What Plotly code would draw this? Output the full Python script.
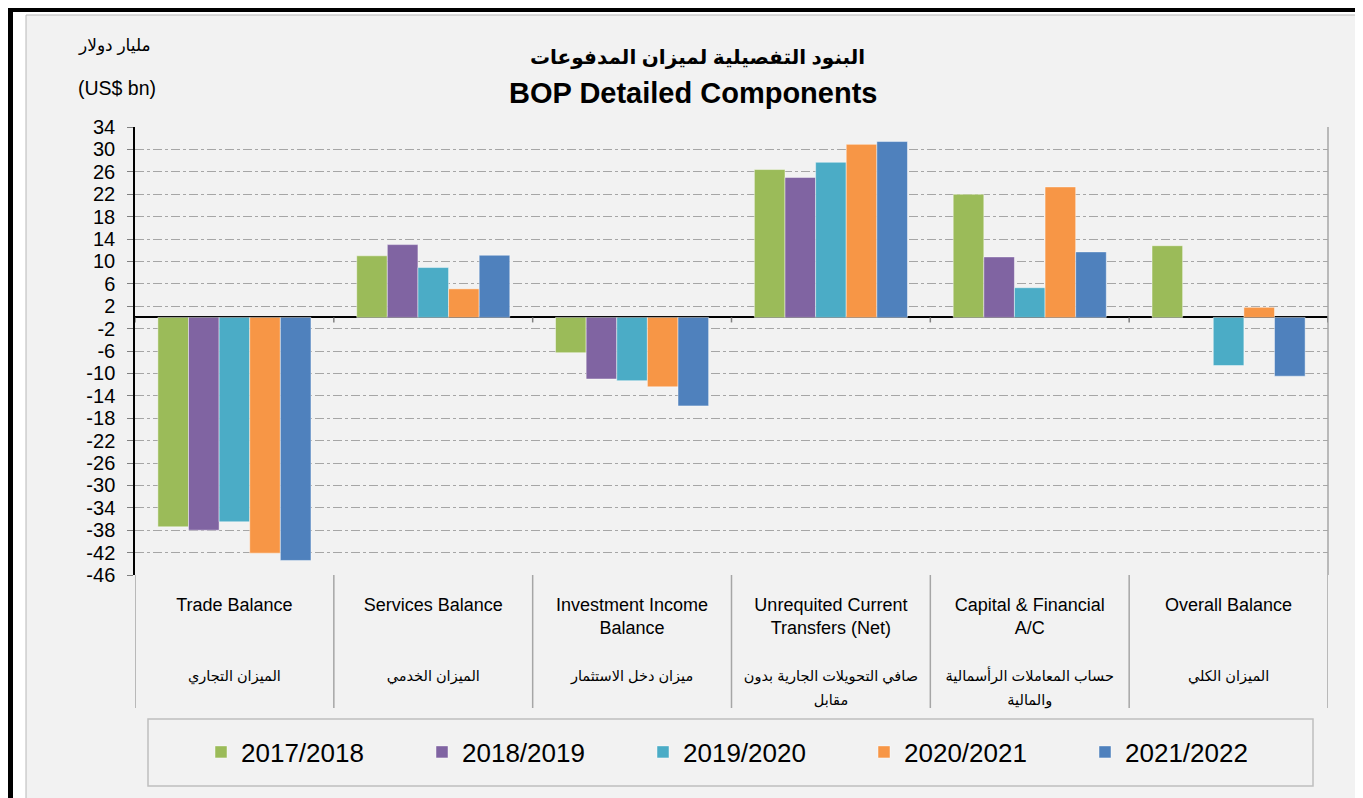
import plotly.graph_objects as go

W, H = 1363, 798
OFF = 8  # page body margin offset
L, R, T, B = 135 - OFF, 1328 - OFF, 127 - OFF, 575 - OFF  # plot area in figure px

categories = ["Trade", "Services", "Investment", "Unrequited", "Capital", "Overall"]
labels_en = ["Trade Balance", "Services Balance", "Investment Income<br>Balance",
             "Unrequited Current<br>Transfers (Net)", "Capital & Financial<br>A/C", "Overall Balance"]
labels_ar = ["الميزان التجاري", "الميزان الخدمي", "ميزان دخل الاستثمار",
             "صافي التحويلات الجارية بدون<br>مقابل", "حساب المعاملات الرأسمالية<br>والمالية", "الميزان الكلي"]
series_names = ["2017/2018", "2018/2019", "2019/2020", "2020/2021", "2021/2022"]
v_2017_2018 = [-37.4, 11.0, -6.3, 26.4, 22.0, 12.8]
v_2018_2019 = [-38.0, 13.0, -11.0, 25.0, 10.8, None]
v_2019_2020 = [-36.5, 8.9, -11.3, 27.7, 5.3, -8.6]
v_2020_2021 = [-42.1, 5.1, -12.4, 30.9, 23.3, 1.8]
v_2021_2022 = [-43.4, 11.1, -15.8, 31.4, 11.7, -10.5]
series_values = [v_2017_2018, v_2018_2019, v_2019_2020, v_2020_2021, v_2021_2022]
colors = ["#9bbb59", "#8064a2", "#4bacc6", "#f79646", "#4f81bd"]
y_ticks = list(range(-46, 35, 4))

FONT = "Liberation Sans, Arial, DejaVu Sans, sans-serif"

def make_label(en, ar):
    n = en.count("<br>") + 1
    gap = "<br>" * (4 - n)
    ar_lines = ar.split("<br>")
    ar_html = "<br>".join('<span style="font-size:14.5px">%s</span>' % s for s in ar_lines)
    return en + gap + ar_html

tick_labels = [make_label(e, a) for e, a in zip(labels_en, labels_ar)]

def px(x):  # screen px -> paper x
    return (x - OFF - L) / (R - L)

def py(y):  # screen px -> paper y
    return (B - (y - OFF)) / (B - T)

fig = go.Figure()
for name, vals, col in zip(series_names, series_values, colors):
    fig.add_trace(go.Bar(
        x=categories, y=vals, name=name,
        marker=dict(color=col, line=dict(color="rgba(255,255,255,0.45)", width=1)),
    ))

shapes = []
shapes.append(dict(type="rect", xref="paper", yref="paper",
                   x0=px(26), x1=px(1359), y0=py(15), y1=py(820),
                   fillcolor="#f2f2f2", line=dict(color="#b8b8b8", width=1), layer="below"))
shapes.append(dict(type="line", xref="paper", yref="paper",
                   x0=px(8), x1=px(1380), y0=py(10), y1=py(10),
                   line=dict(color="black", width=4)))
shapes.append(dict(type="line", xref="paper", yref="paper",
                   x0=px(10.5), x1=px(10.5), y0=py(8), y1=py(820),
                   line=dict(color="black", width=5)))
shapes.append(dict(type="line", xref="paper", yref="paper",
                   x0=1, x1=1, y0=0, y1=1, line=dict(color="#a6a6a6", width=1.5)))
for k in range(len(categories) + 1):
    xb = k - 0.5
    shapes.append(dict(type="line", xref="x", yref="paper",
                       x0=xb, x1=xb, y0=py(708), y1=0,
                       line=dict(color="#a6a6a6", width=1.5)))
    shapes.append(dict(type="line", xref="x", yref="y",
                       x0=xb, x1=xb, y0=0, y1=-0.9,
                       line=dict(color="#808080", width=1.5)))
shapes.append(dict(type="rect", xref="paper", yref="paper",
                   x0=px(148), x1=px(1313), y0=py(786), y1=py(719),
                   fillcolor="rgba(0,0,0,0)", line=dict(color="#bfbfbf", width=1.5)))

def ann(text, x, y, size, xanchor="center"):
    return dict(text=text, xref="paper", yref="paper", x=px(x), y=py(y),
                xanchor=xanchor, yanchor="middle", showarrow=False,
                font=dict(size=size, family=FONT, color="black"))

annotations = [
    ann("<b>البنود التفصيلية لميزان المدفوعات</b>", 697, 57, 20),
    ann("<b>BOP Detailed Components</b>", 693, 93, 29),
    ann("مليار دولار", 76, 45, 17, "left"),
    ann("(US$ bn)", 76, 88, 19.5, "left"),
]

fig.update_layout(
    width=W, height=H,
    margin=dict(l=L, r=W - R, t=T, b=H - B, pad=0, autoexpand=False),
    paper_bgcolor="white", plot_bgcolor="#f2f2f2",
    barmode="group", bargap=0.23, bargroupgap=0,
    font=dict(family=FONT, color="black"),
    shapes=shapes, annotations=annotations,
    legend=dict(orientation="h", xref="paper", yref="paper",
                x=px(201), xanchor="left", y=py(752), yanchor="middle",
                bgcolor="rgba(0,0,0,0)", borderwidth=0,
                font=dict(size=26, family=FONT, color="black"),
                entrywidth=176, itemclick=False),
    showlegend=True,
)
fig.update_xaxes(
    tickvals=categories, ticktext=tick_labels, range=[-0.5, 5.5],
    showgrid=False, zeroline=False, showline=False, ticks="",
    tickangle=0, automargin=False,
    ticklabelstandoff=17,
    tickfont=dict(size=18, family=FONT, color="black"),
)
fig.update_yaxes(
    range=[-46, 34], tickvals=y_ticks, ticktext=[str(v) for v in y_ticks],
    automargin=False,
    showgrid=True, gridcolor="#a6a6a6", griddash="dashdot", gridwidth=1,
    zeroline=True, zerolinecolor="black", zerolinewidth=1.5,
    showline=True, linecolor="black", linewidth=1.5,
    ticks="outside", ticklen=6, tickcolor="#808080",
    ticklabelstandoff=8,
    tickfont=dict(size=20, family=FONT, color="black"),
)

fig.write_html("out.html")
